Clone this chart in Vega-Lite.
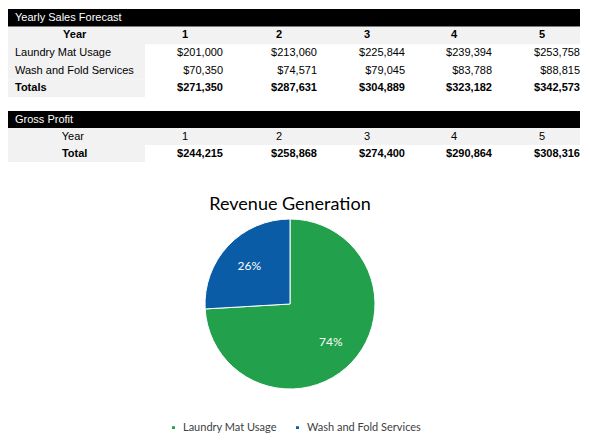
{
  "$schema": "https://vega.github.io/schema/vega-lite/v6.json",
  "background": "#ffffff",
  "padding": {"left": 8, "top": 9, "right": 0, "bottom": 0},
  "config": {
    "view": {"stroke": null},
    "axis": {"disable": true},
    "text": {"font": "Liberation Sans", "fontSize": 11, "baseline": "middle", "color": "#000000"}
  },
  "datasets": {
    "sales": [
      {"item": "Laundry Mat Usage", "year": 1, "amount": 201000},
      {"item": "Laundry Mat Usage", "year": 2, "amount": 213060},
      {"item": "Laundry Mat Usage", "year": 3, "amount": 225844},
      {"item": "Laundry Mat Usage", "year": 4, "amount": 239394},
      {"item": "Laundry Mat Usage", "year": 5, "amount": 253758},
      {"item": "Wash and Fold Services", "year": 1, "amount": 70350},
      {"item": "Wash and Fold Services", "year": 2, "amount": 74571},
      {"item": "Wash and Fold Services", "year": 3, "amount": 79045},
      {"item": "Wash and Fold Services", "year": 4, "amount": 83788},
      {"item": "Wash and Fold Services", "year": 5, "amount": 88815},
      {"item": "Totals", "year": 1, "amount": 271350},
      {"item": "Totals", "year": 2, "amount": 287631},
      {"item": "Totals", "year": 3, "amount": 304889},
      {"item": "Totals", "year": 4, "amount": 323182},
      {"item": "Totals", "year": 5, "amount": 342573}
    ],
    "years": [{"year": 1}, {"year": 2}, {"year": 3}, {"year": 4}, {"year": 5}],
    "profit": [
      {"year": 1, "total": 244215},
      {"year": 2, "total": 258868},
      {"year": 3, "total": 274400},
      {"year": 4, "total": 290864},
      {"year": 5, "total": 308316}
    ],
    "revenue": [
      {"source": "Laundry Mat Usage", "amount": 201000, "label": "74%"},
      {"source": "Wash and Fold Services", "amount": 70350, "label": "26%"}
    ]
  },
  "resolve": {"scale": {"x": "independent", "y": "independent", "color": "independent"}},
  "spacing": 34,
  "vconcat": [
    {
      "resolve": {"scale": {"x": "independent", "y": "independent"}},
      "spacing": 14,
      "vconcat": [
        {
          "width": 572,
          "height": 88,
          "layer": [
            {
              "data": {"values": [{"row": "Year"}]},
              "mark": {"type": "rect", "color": "#f2f2f2"},
              "encoding": {
                "x": {"datum": -1.5, "type": "quantitative", "axis": null,
                      "scale": {"domain": [-1.5, 0, 1, 2, 3, 4, 5], "range": [0, 137, 215, 309, 397, 484, 572], "nice": false, "zero": false}},
                "x2": {"datum": 5},
                "y": {"field": "row", "type": "nominal", "axis": null,
                      "scale": {"domain": ["header", "Year", "Laundry Mat Usage", "Wash and Fold Services", "Totals"], "paddingInner": 0, "paddingOuter": 0}}
              }
            },
            {
              "data": {"name": "sales"},
              "transform": [{"filter": "datum.year == 1"}],
              "mark": {"type": "rect", "color": "#f2f2f2"},
              "encoding": {
                "x": {"datum": -1.5, "type": "quantitative"},
                "x2": {"datum": 0},
                "y": {"field": "item", "type": "nominal"}
              }
            },
            {
              "data": {"values": [{"row": "header", "title": "Yearly Sales Forecast"}]},
              "mark": {"type": "rect", "color": "#000000"},
              "encoding": {
                "x": {"datum": -1.5, "type": "quantitative"},
                "x2": {"datum": 5},
                "y": {"field": "row", "type": "nominal"}
              }
            },
            {
              "data": {"values": [{"row": "header", "title": "Yearly Sales Forecast"}]},
              "mark": {"type": "text", "align": "left", "dx": 7, "color": "#ffffff"},
              "encoding": {
                "x": {"datum": -1.5, "type": "quantitative"},
                "y": {"field": "row", "type": "nominal"},
                "text": {"field": "title"}
              }
            },
            {
              "data": {"values": [{"row": "Year", "label": "Year"}]},
              "mark": {"type": "text", "align": "center", "fontWeight": "bold"},
              "encoding": {
                "x": {"datum": -0.77, "type": "quantitative"},
                "y": {"field": "row", "type": "nominal"},
                "text": {"field": "label"}
              }
            },
            {
              "data": {"name": "years"},
              "mark": {"type": "text", "align": "center", "fontWeight": "bold", "dx": -38},
              "encoding": {
                "x": {"field": "year", "type": "quantitative"},
                "y": {"datum": "Year", "type": "nominal"},
                "text": {"field": "year"}
              }
            },
            {
              "data": {"name": "sales"},
              "transform": [{"filter": "datum.year == 1 && datum.item != 'Totals'"}],
              "mark": {"type": "text", "align": "left", "dx": 7},
              "encoding": {
                "x": {"datum": -1.5, "type": "quantitative"},
                "y": {"field": "item", "type": "nominal"},
                "text": {"field": "item"}
              }
            },
            {
              "data": {"name": "sales"},
              "transform": [{"filter": "datum.year == 1 && datum.item == 'Totals'"}],
              "mark": {"type": "text", "align": "left", "dx": 7, "fontWeight": "bold"},
              "encoding": {
                "x": {"datum": -1.5, "type": "quantitative"},
                "y": {"field": "item", "type": "nominal"},
                "text": {"field": "item"}
              }
            },
            {
              "data": {"name": "sales"},
              "transform": [{"filter": "datum.item != 'Totals'"}],
              "mark": {"type": "text", "align": "right"},
              "encoding": {
                "x": {"field": "year", "type": "quantitative"},
                "y": {"field": "item", "type": "nominal"},
                "text": {"field": "amount", "format": "$,.0f"}
              }
            },
            {
              "data": {"name": "sales"},
              "transform": [{"filter": "datum.item == 'Totals'"}],
              "mark": {"type": "text", "align": "right", "fontWeight": "bold"},
              "encoding": {
                "x": {"field": "year", "type": "quantitative"},
                "y": {"field": "item", "type": "nominal"},
                "text": {"field": "amount", "format": "$,.0f"}
              }
            }
          ]
        },
        {
          "width": 572,
          "height": 51,
          "layer": [
            {
              "data": {"values": [{"row": "Year"}]},
              "mark": {"type": "rect", "color": "#f2f2f2"},
              "encoding": {
                "x": {"datum": -1.5, "type": "quantitative", "axis": null,
                      "scale": {"domain": [-1.5, 0, 1, 2, 3, 4, 5], "range": [0, 137, 215, 309, 397, 484, 572], "nice": false, "zero": false}},
                "x2": {"datum": 5},
                "y": {"field": "row", "type": "nominal", "axis": null,
                      "scale": {"domain": ["header", "Year", "Total"], "paddingInner": 0, "paddingOuter": 0}}
              }
            },
            {
              "data": {"values": [{"row": "Total"}]},
              "mark": {"type": "rect", "color": "#f2f2f2"},
              "encoding": {
                "x": {"datum": -1.5, "type": "quantitative"},
                "x2": {"datum": 0},
                "y": {"field": "row", "type": "nominal"}
              }
            },
            {
              "data": {"values": [{"row": "header", "title": "Gross Profit"}]},
              "mark": {"type": "rect", "color": "#000000"},
              "encoding": {
                "x": {"datum": -1.5, "type": "quantitative"},
                "x2": {"datum": 5},
                "y": {"field": "row", "type": "nominal"}
              }
            },
            {
              "data": {"values": [{"row": "header", "title": "Gross Profit"}]},
              "mark": {"type": "text", "align": "left", "dx": 7, "color": "#ffffff"},
              "encoding": {
                "x": {"datum": -1.5, "type": "quantitative"},
                "y": {"field": "row", "type": "nominal"},
                "text": {"field": "title"}
              }
            },
            {
              "data": {"values": [{"row": "Year", "label": "Year"}]},
              "mark": {"type": "text", "align": "center"},
              "encoding": {
                "x": {"datum": -0.79, "type": "quantitative"},
                "y": {"field": "row", "type": "nominal"},
                "text": {"field": "label"}
              }
            },
            {
              "data": {"values": [{"row": "Total", "label": "Total"}]},
              "mark": {"type": "text", "align": "center", "fontWeight": "bold"},
              "encoding": {
                "x": {"datum": -0.77, "type": "quantitative"},
                "y": {"field": "row", "type": "nominal"},
                "text": {"field": "label"}
              }
            },
            {
              "data": {"name": "years"},
              "mark": {"type": "text", "align": "center", "dx": -38},
              "encoding": {
                "x": {"field": "year", "type": "quantitative"},
                "y": {"datum": "Year", "type": "nominal"},
                "text": {"field": "year"}
              }
            },
            {
              "data": {"name": "profit"},
              "mark": {"type": "text", "align": "right", "fontWeight": "bold"},
              "encoding": {
                "x": {"field": "year", "type": "quantitative"},
                "y": {"datum": "Total", "type": "nominal"},
                "text": {"field": "total", "format": "$,.0f"}
              }
            }
          ]
        }
      ]
    },
    {
      "width": 564,
      "height": 166,
      "title": {"text": "Revenue Generation", "font": "Lato", "fontSize": 18, "fontWeight": "normal", "color": "#000000", "offset": 3, "anchor": "middle"},
      "data": {"name": "revenue"},
      "encoding": {
        "theta": {"field": "amount", "type": "quantitative", "stack": true},
        "order": {"field": "amount", "type": "quantitative", "sort": "descending"},
        "color": {
          "field": "source", "type": "nominal",
          "scale": {"domain": ["Laundry Mat Usage", "Wash and Fold Services"], "range": ["#22a04b", "#0b5ca6"]},
          "legend": {"orient": "none", "legendX": 160, "legendY": 201, "direction": "horizontal", "title": null, "symbolType": "square", "symbolSize": 20, "labelFont": "Lato", "labelFontSize": 11, "labelColor": "#404040", "columnPadding": 15}
        }
      },
      "layer": [
        {"mark": {"type": "arc", "outerRadius": 85, "stroke": "#ffffff", "strokeWidth": 1}},
        {
          "mark": {"type": "text", "radius": 56, "font": "Lato", "fontSize": 12},
          "encoding": {"text": {"field": "label"}, "color": {"value": "#ffffff"}}
        }
      ]
    }
  ]
}
